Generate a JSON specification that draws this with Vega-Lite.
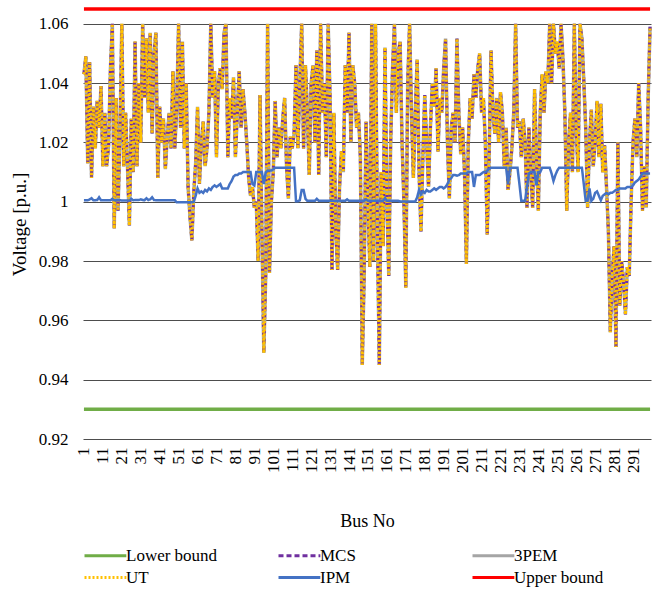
{
"$schema": "https://vega.github.io/schema/vega-lite/v6.json",
"width": 568, "height": 430,
"autosize": {"type": "none"},
"padding": {"left": 83, "top": 9, "right": 6, "bottom": 150},
"background": "white",
"config": {"view": {"stroke": null}, "font": "Times New Roman, Liberation Serif, serif"},
"datasets": {
"bounds": [{"b":1,"key":"Lower bound","value":0.93},{"b":300,"key":"Lower bound","value":0.93},{"b":1,"key":"Upper bound","value":1.065},{"b":300,"key":"Upper bound","value":1.065}],
"bus": [
{"b":1,"MCS":1.043,"3PEM":1.043,"UT":1.043,"IPM":1.0005},
{"b":2,"MCS":1.049,"3PEM":1.049,"UT":1.049,"IPM":1.0005},
{"b":3,"MCS":1.013,"3PEM":1.013,"UT":1.013,"IPM":1.0005},
{"b":4,"MCS":1.047,"3PEM":1.047,"UT":1.047,"IPM":1.0008},
{"b":5,"MCS":1.008,"3PEM":1.008,"UT":1.008,"IPM":1.0012},
{"b":6,"MCS":1.032,"3PEM":1.032,"UT":1.032,"IPM":1.0005},
{"b":7,"MCS":1.018,"3PEM":1.018,"UT":1.018,"IPM":1.0005},
{"b":8,"MCS":1.034,"3PEM":1.034,"UT":1.034,"IPM":1.0006},
{"b":9,"MCS":1.025,"3PEM":1.025,"UT":1.025,"IPM":1.0015},
{"b":10,"MCS":1.039,"3PEM":1.039,"UT":1.039,"IPM":1.0005},
{"b":11,"MCS":1.012,"3PEM":1.012,"UT":1.012,"IPM":1.0005},
{"b":12,"MCS":1.030,"3PEM":1.030,"UT":1.030,"IPM":1.0005},
{"b":13,"MCS":1.012,"3PEM":1.012,"UT":1.012,"IPM":1.0005},
{"b":14,"MCS":1.019,"3PEM":1.019,"UT":1.019,"IPM":1.0005},
{"b":15,"MCS":1.045,"3PEM":1.045,"UT":1.045,"IPM":1.0005},
{"b":16,"MCS":1.060,"3PEM":1.060,"UT":1.060,"IPM":1.001},
{"b":17,"MCS":0.991,"3PEM":0.991,"UT":0.991,"IPM":1.0005},
{"b":18,"MCS":1.035,"3PEM":1.035,"UT":1.035,"IPM":1.0005},
{"b":19,"MCS":0.997,"3PEM":0.997,"UT":0.997,"IPM":1.0005},
{"b":20,"MCS":1.022,"3PEM":1.022,"UT":1.022,"IPM":1.0005},
{"b":21,"MCS":1.060,"3PEM":1.060,"UT":1.060,"IPM":1.0004},
{"b":22,"MCS":1.012,"3PEM":1.012,"UT":1.012,"IPM":1.0004},
{"b":23,"MCS":1.030,"3PEM":1.030,"UT":1.030,"IPM":1.0004},
{"b":24,"MCS":1.012,"3PEM":1.012,"UT":1.012,"IPM":1.0004},
{"b":25,"MCS":0.992,"3PEM":0.992,"UT":0.992,"IPM":1.0004},
{"b":26,"MCS":1.028,"3PEM":1.028,"UT":1.028,"IPM":1.001},
{"b":27,"MCS":1.010,"3PEM":1.010,"UT":1.010,"IPM":1.0005},
{"b":28,"MCS":1.054,"3PEM":1.054,"UT":1.054,"IPM":1.0006},
{"b":29,"MCS":1.012,"3PEM":1.012,"UT":1.012,"IPM":1.0006},
{"b":30,"MCS":1.040,"3PEM":1.040,"UT":1.040,"IPM":1.0006},
{"b":31,"MCS":1.020,"3PEM":1.020,"UT":1.020,"IPM":1.0008},
{"b":32,"MCS":1.060,"3PEM":1.060,"UT":1.060,"IPM":1.0006},
{"b":33,"MCS":1.035,"3PEM":1.035,"UT":1.035,"IPM":1.0005},
{"b":34,"MCS":1.055,"3PEM":1.055,"UT":1.055,"IPM":1.0012},
{"b":35,"MCS":1.030,"3PEM":1.030,"UT":1.030,"IPM":1.0006},
{"b":36,"MCS":1.057,"3PEM":1.057,"UT":1.057,"IPM":1.0008},
{"b":37,"MCS":1.023,"3PEM":1.023,"UT":1.023,"IPM":1.0015},
{"b":38,"MCS":1.050,"3PEM":1.050,"UT":1.050,"IPM":1.0006},
{"b":39,"MCS":1.057,"3PEM":1.057,"UT":1.057,"IPM":1.0005},
{"b":40,"MCS":1.008,"3PEM":1.008,"UT":1.008,"IPM":1.0005},
{"b":41,"MCS":1.032,"3PEM":1.032,"UT":1.032,"IPM":1.0005},
{"b":42,"MCS":1.020,"3PEM":1.020,"UT":1.020,"IPM":1.0005},
{"b":43,"MCS":1.028,"3PEM":1.028,"UT":1.028,"IPM":1.0005},
{"b":44,"MCS":1.011,"3PEM":1.011,"UT":1.011,"IPM":1.0005},
{"b":45,"MCS":1.022,"3PEM":1.022,"UT":1.022,"IPM":1.0005},
{"b":46,"MCS":1.030,"3PEM":1.030,"UT":1.030,"IPM":1.0005},
{"b":47,"MCS":1.018,"3PEM":1.018,"UT":1.018,"IPM":1.0005},
{"b":48,"MCS":1.044,"3PEM":1.044,"UT":1.044,"IPM":1.0005},
{"b":49,"MCS":1.018,"3PEM":1.018,"UT":1.018,"IPM":1.0005},
{"b":50,"MCS":1.032,"3PEM":1.032,"UT":1.032,"IPM":0.9998},
{"b":51,"MCS":1.060,"3PEM":1.060,"UT":1.060,"IPM":0.9998},
{"b":52,"MCS":1.025,"3PEM":1.025,"UT":1.025,"IPM":0.9998},
{"b":53,"MCS":1.054,"3PEM":1.054,"UT":1.054,"IPM":0.9998},
{"b":54,"MCS":1.018,"3PEM":1.018,"UT":1.018,"IPM":0.9998},
{"b":55,"MCS":1.040,"3PEM":1.040,"UT":1.040,"IPM":0.9998},
{"b":56,"MCS":1.005,"3PEM":1.005,"UT":1.005,"IPM":0.9998},
{"b":57,"MCS":0.995,"3PEM":0.995,"UT":0.995,"IPM":0.9998},
{"b":58,"MCS":0.987,"3PEM":0.987,"UT":0.987,"IPM":0.9998},
{"b":59,"MCS":1.003,"3PEM":1.003,"UT":1.003,"IPM":1.0000},
{"b":60,"MCS":1.013,"3PEM":1.013,"UT":1.013,"IPM":1.002},
{"b":61,"MCS":1.032,"3PEM":1.032,"UT":1.032,"IPM":1.0045},
{"b":62,"MCS":1.006,"3PEM":1.006,"UT":1.006,"IPM":1.003},
{"b":63,"MCS":1.020,"3PEM":1.020,"UT":1.020,"IPM":1.0035},
{"b":64,"MCS":1.027,"3PEM":1.027,"UT":1.027,"IPM":1.003},
{"b":65,"MCS":1.012,"3PEM":1.012,"UT":1.012,"IPM":1.004},
{"b":66,"MCS":1.018,"3PEM":1.018,"UT":1.018,"IPM":1.0035},
{"b":67,"MCS":1.030,"3PEM":1.030,"UT":1.030,"IPM":1.0045},
{"b":68,"MCS":1.060,"3PEM":1.060,"UT":1.060,"IPM":1.004},
{"b":69,"MCS":1.035,"3PEM":1.035,"UT":1.035,"IPM":1.005},
{"b":70,"MCS":1.044,"3PEM":1.044,"UT":1.044,"IPM":1.0055},
{"b":71,"MCS":1.015,"3PEM":1.015,"UT":1.015,"IPM":1.005},
{"b":72,"MCS":1.040,"3PEM":1.040,"UT":1.040,"IPM":1.0055},
{"b":73,"MCS":1.045,"3PEM":1.045,"UT":1.045,"IPM":1.006},
{"b":74,"MCS":1.038,"3PEM":1.038,"UT":1.038,"IPM":1.0045},
{"b":75,"MCS":1.057,"3PEM":1.057,"UT":1.057,"IPM":1.0045},
{"b":76,"MCS":1.060,"3PEM":1.060,"UT":1.060,"IPM":1.0045},
{"b":77,"MCS":1.015,"3PEM":1.015,"UT":1.015,"IPM":1.0045},
{"b":78,"MCS":1.035,"3PEM":1.035,"UT":1.035,"IPM":1.006},
{"b":79,"MCS":1.028,"3PEM":1.028,"UT":1.028,"IPM":1.007},
{"b":80,"MCS":1.042,"3PEM":1.042,"UT":1.042,"IPM":1.0085},
{"b":81,"MCS":1.015,"3PEM":1.015,"UT":1.015,"IPM":1.009},
{"b":82,"MCS":1.030,"3PEM":1.030,"UT":1.030,"IPM":1.009},
{"b":83,"MCS":1.044,"3PEM":1.044,"UT":1.044,"IPM":1.0095},
{"b":84,"MCS":1.025,"3PEM":1.025,"UT":1.025,"IPM":1.0095},
{"b":85,"MCS":1.038,"3PEM":1.038,"UT":1.038,"IPM":1.010},
{"b":86,"MCS":1.030,"3PEM":1.030,"UT":1.030,"IPM":1.010},
{"b":87,"MCS":1.020,"3PEM":1.020,"UT":1.020,"IPM":1.010},
{"b":88,"MCS":1.008,"3PEM":1.008,"UT":1.008,"IPM":1.010},
{"b":89,"MCS":1.002,"3PEM":1.002,"UT":1.002,"IPM":1.010},
{"b":90,"MCS":1.005,"3PEM":1.005,"UT":1.005,"IPM":1.006},
{"b":91,"MCS":0.998,"3PEM":0.998,"UT":0.998,"IPM":1.0055},
{"b":92,"MCS":1.000,"3PEM":1.000,"UT":1.000,"IPM":1.010},
{"b":93,"MCS":0.980,"3PEM":0.980,"UT":0.980,"IPM":1.010},
{"b":94,"MCS":1.036,"3PEM":1.036,"UT":1.036,"IPM":1.010},
{"b":95,"MCS":0.990,"3PEM":0.990,"UT":0.990,"IPM":1.010},
{"b":96,"MCS":0.949,"3PEM":0.949,"UT":0.949,"IPM":1.006},
{"b":97,"MCS":0.975,"3PEM":0.975,"UT":0.975,"IPM":1.010},
{"b":98,"MCS":1.060,"3PEM":1.060,"UT":1.060,"IPM":1.0105},
{"b":99,"MCS":0.976,"3PEM":0.976,"UT":0.976,"IPM":1.0105},
{"b":100,"MCS":1.000,"3PEM":1.000,"UT":1.000,"IPM":1.0105},
{"b":101,"MCS":1.010,"3PEM":1.010,"UT":1.010,"IPM":1.011},
{"b":102,"MCS":1.034,"3PEM":1.034,"UT":1.034,"IPM":1.0115},
{"b":103,"MCS":1.015,"3PEM":1.015,"UT":1.015,"IPM":1.0115},
{"b":104,"MCS":1.025,"3PEM":1.025,"UT":1.025,"IPM":1.0115},
{"b":105,"MCS":1.018,"3PEM":1.018,"UT":1.018,"IPM":1.0115},
{"b":106,"MCS":1.028,"3PEM":1.028,"UT":1.028,"IPM":1.0115},
{"b":107,"MCS":1.035,"3PEM":1.035,"UT":1.035,"IPM":1.0115},
{"b":108,"MCS":1.012,"3PEM":1.012,"UT":1.012,"IPM":1.0115},
{"b":109,"MCS":1.001,"3PEM":1.001,"UT":1.001,"IPM":1.0115},
{"b":110,"MCS":1.022,"3PEM":1.022,"UT":1.022,"IPM":1.0115},
{"b":111,"MCS":1.018,"3PEM":1.018,"UT":1.018,"IPM":1.0115},
{"b":112,"MCS":1.023,"3PEM":1.023,"UT":1.023,"IPM":1.0115},
{"b":113,"MCS":1.046,"3PEM":1.046,"UT":1.046,"IPM":1.0002},
{"b":114,"MCS":1.018,"3PEM":1.018,"UT":1.018,"IPM":1.0002},
{"b":115,"MCS":1.040,"3PEM":1.040,"UT":1.040,"IPM":1.0005},
{"b":116,"MCS":1.060,"3PEM":1.060,"UT":1.060,"IPM":1.004},
{"b":117,"MCS":1.018,"3PEM":1.018,"UT":1.018,"IPM":1.004},
{"b":118,"MCS":1.046,"3PEM":1.046,"UT":1.046,"IPM":1.001},
{"b":119,"MCS":1.030,"3PEM":1.030,"UT":1.030,"IPM":1.0003},
{"b":120,"MCS":1.009,"3PEM":1.009,"UT":1.009,"IPM":1.0003},
{"b":121,"MCS":1.040,"3PEM":1.040,"UT":1.040,"IPM":1.0003},
{"b":122,"MCS":1.046,"3PEM":1.046,"UT":1.046,"IPM":1.0003},
{"b":123,"MCS":1.020,"3PEM":1.020,"UT":1.020,"IPM":1.0003},
{"b":124,"MCS":1.051,"3PEM":1.051,"UT":1.051,"IPM":1.001},
{"b":125,"MCS":1.009,"3PEM":1.009,"UT":1.009,"IPM":1.0003},
{"b":126,"MCS":1.060,"3PEM":1.060,"UT":1.060,"IPM":1.0003},
{"b":127,"MCS":1.030,"3PEM":1.030,"UT":1.030,"IPM":1.0003},
{"b":128,"MCS":1.040,"3PEM":1.040,"UT":1.040,"IPM":1.0003},
{"b":129,"MCS":1.015,"3PEM":1.015,"UT":1.015,"IPM":1.0003},
{"b":130,"MCS":1.060,"3PEM":1.060,"UT":1.060,"IPM":1.0003},
{"b":131,"MCS":1.035,"3PEM":1.035,"UT":1.035,"IPM":1.0003},
{"b":132,"MCS":0.977,"3PEM":0.977,"UT":0.977,"IPM":1.0003},
{"b":133,"MCS":1.030,"3PEM":1.030,"UT":1.030,"IPM":1.0003},
{"b":134,"MCS":0.990,"3PEM":0.990,"UT":0.990,"IPM":1.0003},
{"b":135,"MCS":0.977,"3PEM":0.977,"UT":0.977,"IPM":1.0003},
{"b":136,"MCS":1.005,"3PEM":1.005,"UT":1.005,"IPM":1.0003},
{"b":137,"MCS":1.017,"3PEM":1.017,"UT":1.017,"IPM":1.0003},
{"b":138,"MCS":1.010,"3PEM":1.010,"UT":1.010,"IPM":1.0003},
{"b":139,"MCS":1.046,"3PEM":1.046,"UT":1.046,"IPM":1.0003},
{"b":140,"MCS":1.030,"3PEM":1.030,"UT":1.030,"IPM":1.0008},
{"b":141,"MCS":1.057,"3PEM":1.057,"UT":1.057,"IPM":1.0003},
{"b":142,"MCS":1.020,"3PEM":1.020,"UT":1.020,"IPM":1.0003},
{"b":143,"MCS":1.046,"3PEM":1.046,"UT":1.046,"IPM":1.0003},
{"b":144,"MCS":1.040,"3PEM":1.040,"UT":1.040,"IPM":1.0003},
{"b":145,"MCS":1.025,"3PEM":1.025,"UT":1.025,"IPM":1.0003},
{"b":146,"MCS":1.030,"3PEM":1.030,"UT":1.030,"IPM":1.0003},
{"b":147,"MCS":1.015,"3PEM":1.015,"UT":1.015,"IPM":1.0003},
{"b":148,"MCS":0.945,"3PEM":0.945,"UT":0.945,"IPM":1.0003},
{"b":149,"MCS":0.975,"3PEM":0.975,"UT":0.975,"IPM":1.0003},
{"b":150,"MCS":1.027,"3PEM":1.027,"UT":1.027,"IPM":1.0008},
{"b":151,"MCS":1.000,"3PEM":1.000,"UT":1.000,"IPM":1.0003},
{"b":152,"MCS":0.978,"3PEM":0.978,"UT":0.978,"IPM":1.0003},
{"b":153,"MCS":1.060,"3PEM":1.060,"UT":1.060,"IPM":1.0003},
{"b":154,"MCS":0.980,"3PEM":0.980,"UT":0.980,"IPM":1.0003},
{"b":155,"MCS":1.060,"3PEM":1.060,"UT":1.060,"IPM":1.0003},
{"b":156,"MCS":0.990,"3PEM":0.990,"UT":0.990,"IPM":1.0003},
{"b":157,"MCS":0.945,"3PEM":0.945,"UT":0.945,"IPM":1.0003},
{"b":158,"MCS":1.010,"3PEM":1.010,"UT":1.010,"IPM":1.0003},
{"b":159,"MCS":0.985,"3PEM":0.985,"UT":0.985,"IPM":1.0003},
{"b":160,"MCS":1.052,"3PEM":1.052,"UT":1.052,"IPM":1.0012},
{"b":161,"MCS":1.000,"3PEM":1.000,"UT":1.000,"IPM":1.0003},
{"b":162,"MCS":0.975,"3PEM":0.975,"UT":0.975,"IPM":1.0003},
{"b":163,"MCS":1.020,"3PEM":1.020,"UT":1.020,"IPM":1.0003},
{"b":164,"MCS":1.045,"3PEM":1.045,"UT":1.045,"IPM":1.0003},
{"b":165,"MCS":1.060,"3PEM":1.060,"UT":1.060,"IPM":1.0003},
{"b":166,"MCS":1.030,"3PEM":1.030,"UT":1.030,"IPM":1.0003},
{"b":167,"MCS":1.050,"3PEM":1.050,"UT":1.050,"IPM":1.0003},
{"b":168,"MCS":1.054,"3PEM":1.054,"UT":1.054,"IPM":1.0001},
{"b":169,"MCS":1.020,"3PEM":1.020,"UT":1.020,"IPM":1.0001},
{"b":170,"MCS":1.000,"3PEM":1.000,"UT":1.000,"IPM":1.0001},
{"b":171,"MCS":0.971,"3PEM":0.971,"UT":0.971,"IPM":1.0001},
{"b":172,"MCS":1.040,"3PEM":1.040,"UT":1.040,"IPM":1.0001},
{"b":173,"MCS":1.060,"3PEM":1.060,"UT":1.060,"IPM":1.0001},
{"b":174,"MCS":1.030,"3PEM":1.030,"UT":1.030,"IPM":1.0001},
{"b":175,"MCS":1.008,"3PEM":1.008,"UT":1.008,"IPM":1.0001},
{"b":176,"MCS":1.030,"3PEM":1.030,"UT":1.030,"IPM":1.0001},
{"b":177,"MCS":1.048,"3PEM":1.048,"UT":1.048,"IPM":1.0015},
{"b":178,"MCS":1.010,"3PEM":1.010,"UT":1.010,"IPM":1.004},
{"b":179,"MCS":0.990,"3PEM":0.990,"UT":0.990,"IPM":1.0025},
{"b":180,"MCS":1.015,"3PEM":1.015,"UT":1.015,"IPM":1.0035},
{"b":181,"MCS":1.036,"3PEM":1.036,"UT":1.036,"IPM":1.003},
{"b":182,"MCS":1.020,"3PEM":1.020,"UT":1.020,"IPM":1.004},
{"b":183,"MCS":1.005,"3PEM":1.005,"UT":1.005,"IPM":1.0035},
{"b":184,"MCS":1.025,"3PEM":1.025,"UT":1.025,"IPM":1.0035},
{"b":185,"MCS":1.040,"3PEM":1.040,"UT":1.040,"IPM":1.004},
{"b":186,"MCS":1.032,"3PEM":1.032,"UT":1.032,"IPM":1.0045},
{"b":187,"MCS":1.045,"3PEM":1.045,"UT":1.045,"IPM":1.004},
{"b":188,"MCS":1.017,"3PEM":1.017,"UT":1.017,"IPM":1.0045},
{"b":189,"MCS":1.035,"3PEM":1.035,"UT":1.035,"IPM":1.005},
{"b":190,"MCS":1.030,"3PEM":1.030,"UT":1.030,"IPM":1.005},
{"b":191,"MCS":1.045,"3PEM":1.045,"UT":1.045,"IPM":1.0045},
{"b":192,"MCS":1.055,"3PEM":1.055,"UT":1.055,"IPM":1.005},
{"b":193,"MCS":1.020,"3PEM":1.020,"UT":1.020,"IPM":1.006},
{"b":194,"MCS":1.001,"3PEM":1.001,"UT":1.001,"IPM":1.0075},
{"b":195,"MCS":1.025,"3PEM":1.025,"UT":1.025,"IPM":1.008},
{"b":196,"MCS":1.030,"3PEM":1.030,"UT":1.030,"IPM":1.009},
{"b":197,"MCS":1.020,"3PEM":1.020,"UT":1.020,"IPM":1.009},
{"b":198,"MCS":1.055,"3PEM":1.055,"UT":1.055,"IPM":1.0088},
{"b":199,"MCS":1.030,"3PEM":1.030,"UT":1.030,"IPM":1.009},
{"b":200,"MCS":1.016,"3PEM":1.016,"UT":1.016,"IPM":1.0095},
{"b":201,"MCS":1.025,"3PEM":1.025,"UT":1.025,"IPM":1.0095},
{"b":202,"MCS":1.010,"3PEM":1.010,"UT":1.010,"IPM":1.0095},
{"b":203,"MCS":0.979,"3PEM":0.979,"UT":0.979,"IPM":1.0095},
{"b":204,"MCS":1.020,"3PEM":1.020,"UT":1.020,"IPM":1.010},
{"b":205,"MCS":1.035,"3PEM":1.035,"UT":1.035,"IPM":1.010},
{"b":206,"MCS":1.028,"3PEM":1.028,"UT":1.028,"IPM":1.010},
{"b":207,"MCS":1.043,"3PEM":1.043,"UT":1.043,"IPM":1.005},
{"b":208,"MCS":1.035,"3PEM":1.035,"UT":1.035,"IPM":1.009},
{"b":209,"MCS":1.045,"3PEM":1.045,"UT":1.045,"IPM":1.009},
{"b":210,"MCS":1.050,"3PEM":1.050,"UT":1.050,"IPM":1.009},
{"b":211,"MCS":1.030,"3PEM":1.030,"UT":1.030,"IPM":1.0095},
{"b":212,"MCS":1.035,"3PEM":1.035,"UT":1.035,"IPM":1.010},
{"b":213,"MCS":1.020,"3PEM":1.020,"UT":1.020,"IPM":1.010},
{"b":214,"MCS":0.989,"3PEM":0.989,"UT":0.989,"IPM":1.0105},
{"b":215,"MCS":1.015,"3PEM":1.015,"UT":1.015,"IPM":1.011},
{"b":216,"MCS":1.051,"3PEM":1.051,"UT":1.051,"IPM":1.0115},
{"b":217,"MCS":1.030,"3PEM":1.030,"UT":1.030,"IPM":1.0115},
{"b":218,"MCS":1.023,"3PEM":1.023,"UT":1.023,"IPM":1.0115},
{"b":219,"MCS":1.035,"3PEM":1.035,"UT":1.035,"IPM":1.0115},
{"b":220,"MCS":1.020,"3PEM":1.020,"UT":1.020,"IPM":1.0115},
{"b":221,"MCS":1.037,"3PEM":1.037,"UT":1.037,"IPM":1.0115},
{"b":222,"MCS":1.030,"3PEM":1.030,"UT":1.030,"IPM":1.0115},
{"b":223,"MCS":1.012,"3PEM":1.012,"UT":1.012,"IPM":1.0115},
{"b":224,"MCS":1.025,"3PEM":1.025,"UT":1.025,"IPM":1.0115},
{"b":225,"MCS":1.004,"3PEM":1.004,"UT":1.004,"IPM":1.006},
{"b":226,"MCS":1.010,"3PEM":1.010,"UT":1.010,"IPM":1.0115},
{"b":227,"MCS":1.018,"3PEM":1.018,"UT":1.018,"IPM":1.0115},
{"b":228,"MCS":1.030,"3PEM":1.030,"UT":1.030,"IPM":1.0115},
{"b":229,"MCS":1.060,"3PEM":1.060,"UT":1.060,"IPM":1.0115},
{"b":230,"MCS":1.025,"3PEM":1.025,"UT":1.025,"IPM":1.0115},
{"b":231,"MCS":1.027,"3PEM":1.027,"UT":1.027,"IPM":1.006},
{"b":232,"MCS":1.015,"3PEM":1.015,"UT":1.015,"IPM":1.0003},
{"b":233,"MCS":1.028,"3PEM":1.028,"UT":1.028,"IPM":1.0003},
{"b":234,"MCS":1.020,"3PEM":1.020,"UT":1.020,"IPM":1.0003},
{"b":235,"MCS":0.998,"3PEM":0.998,"UT":0.998,"IPM":1.005},
{"b":236,"MCS":1.025,"3PEM":1.025,"UT":1.025,"IPM":1.0095},
{"b":237,"MCS":1.010,"3PEM":1.010,"UT":1.010,"IPM":1.010},
{"b":238,"MCS":0.998,"3PEM":0.998,"UT":0.998,"IPM":1.010},
{"b":239,"MCS":1.038,"3PEM":1.038,"UT":1.038,"IPM":1.010},
{"b":240,"MCS":1.015,"3PEM":1.015,"UT":1.015,"IPM":1.0055},
{"b":241,"MCS":0.997,"3PEM":0.997,"UT":0.997,"IPM":1.010},
{"b":242,"MCS":1.030,"3PEM":1.030,"UT":1.030,"IPM":1.010},
{"b":243,"MCS":1.043,"3PEM":1.043,"UT":1.043,"IPM":1.0115},
{"b":244,"MCS":1.030,"3PEM":1.030,"UT":1.030,"IPM":1.0115},
{"b":245,"MCS":1.044,"3PEM":1.044,"UT":1.044,"IPM":1.0115},
{"b":246,"MCS":1.040,"3PEM":1.040,"UT":1.040,"IPM":1.0115},
{"b":247,"MCS":1.060,"3PEM":1.060,"UT":1.060,"IPM":1.0115},
{"b":248,"MCS":1.040,"3PEM":1.040,"UT":1.040,"IPM":1.0095},
{"b":249,"MCS":1.060,"3PEM":1.060,"UT":1.060,"IPM":1.007},
{"b":250,"MCS":1.050,"3PEM":1.050,"UT":1.050,"IPM":1.009},
{"b":251,"MCS":1.054,"3PEM":1.054,"UT":1.054,"IPM":1.0105},
{"b":252,"MCS":1.045,"3PEM":1.045,"UT":1.045,"IPM":1.0115},
{"b":253,"MCS":1.060,"3PEM":1.060,"UT":1.060,"IPM":1.0115},
{"b":254,"MCS":1.048,"3PEM":1.048,"UT":1.048,"IPM":1.0115},
{"b":255,"MCS":1.030,"3PEM":1.030,"UT":1.030,"IPM":1.0115},
{"b":256,"MCS":0.997,"3PEM":0.997,"UT":0.997,"IPM":1.0115},
{"b":257,"MCS":1.020,"3PEM":1.020,"UT":1.020,"IPM":1.0115},
{"b":258,"MCS":1.030,"3PEM":1.030,"UT":1.030,"IPM":1.0115},
{"b":259,"MCS":1.010,"3PEM":1.010,"UT":1.010,"IPM":1.0115},
{"b":260,"MCS":1.060,"3PEM":1.060,"UT":1.060,"IPM":1.0115},
{"b":261,"MCS":1.025,"3PEM":1.025,"UT":1.025,"IPM":1.0115},
{"b":262,"MCS":1.010,"3PEM":1.010,"UT":1.010,"IPM":1.0115},
{"b":263,"MCS":1.060,"3PEM":1.060,"UT":1.060,"IPM":1.0115},
{"b":264,"MCS":1.055,"3PEM":1.055,"UT":1.055,"IPM":1.0115},
{"b":265,"MCS":1.041,"3PEM":1.041,"UT":1.041,"IPM":1.006},
{"b":266,"MCS":1.025,"3PEM":1.025,"UT":1.025,"IPM":1.0003},
{"b":267,"MCS":0.998,"3PEM":0.998,"UT":0.998,"IPM":1.0003},
{"b":268,"MCS":1.020,"3PEM":1.020,"UT":1.020,"IPM":1.0045},
{"b":269,"MCS":1.031,"3PEM":1.031,"UT":1.031,"IPM":1.0003},
{"b":270,"MCS":1.012,"3PEM":1.012,"UT":1.012,"IPM":1.001},
{"b":271,"MCS":1.020,"3PEM":1.020,"UT":1.020,"IPM":1.003},
{"b":272,"MCS":1.034,"3PEM":1.034,"UT":1.034,"IPM":1.0035},
{"b":273,"MCS":1.015,"3PEM":1.015,"UT":1.015,"IPM":1.002},
{"b":274,"MCS":1.033,"3PEM":1.033,"UT":1.033,"IPM":1.0005},
{"b":275,"MCS":1.010,"3PEM":1.010,"UT":1.010,"IPM":1.002},
{"b":276,"MCS":1.019,"3PEM":1.019,"UT":1.019,"IPM":1.0025},
{"b":277,"MCS":1.005,"3PEM":1.005,"UT":1.005,"IPM":1.003},
{"b":278,"MCS":0.990,"3PEM":0.990,"UT":0.990,"IPM":1.0025},
{"b":279,"MCS":0.956,"3PEM":0.956,"UT":0.956,"IPM":1.003},
{"b":280,"MCS":0.975,"3PEM":0.975,"UT":0.975,"IPM":1.003},
{"b":281,"MCS":0.985,"3PEM":0.985,"UT":0.985,"IPM":1.0035},
{"b":282,"MCS":0.951,"3PEM":0.951,"UT":0.951,"IPM":1.004},
{"b":283,"MCS":1.020,"3PEM":1.020,"UT":1.020,"IPM":1.004},
{"b":284,"MCS":0.965,"3PEM":0.965,"UT":0.965,"IPM":1.0045},
{"b":285,"MCS":0.980,"3PEM":0.980,"UT":0.980,"IPM":1.0045},
{"b":286,"MCS":0.973,"3PEM":0.973,"UT":0.973,"IPM":1.0045},
{"b":287,"MCS":0.962,"3PEM":0.962,"UT":0.962,"IPM":1.0045},
{"b":288,"MCS":0.978,"3PEM":0.978,"UT":0.978,"IPM":1.005},
{"b":289,"MCS":0.975,"3PEM":0.975,"UT":0.975,"IPM":1.005},
{"b":290,"MCS":1.000,"3PEM":1.000,"UT":1.000,"IPM":1.005},
{"b":291,"MCS":1.020,"3PEM":1.020,"UT":1.020,"IPM":1.0055},
{"b":292,"MCS":1.028,"3PEM":1.028,"UT":1.028,"IPM":1.0065},
{"b":293,"MCS":1.015,"3PEM":1.015,"UT":1.015,"IPM":1.007},
{"b":294,"MCS":1.040,"3PEM":1.040,"UT":1.040,"IPM":1.0075},
{"b":295,"MCS":1.025,"3PEM":1.025,"UT":1.025,"IPM":1.0085},
{"b":296,"MCS":0.997,"3PEM":0.997,"UT":0.997,"IPM":1.0095},
{"b":297,"MCS":1.012,"3PEM":1.012,"UT":1.012,"IPM":1.0095},
{"b":298,"MCS":0.998,"3PEM":0.998,"UT":0.998,"IPM":1.0095},
{"b":299,"MCS":1.035,"3PEM":1.035,"UT":1.035,"IPM":1.0095},
{"b":300,"MCS":1.059,"3PEM":1.059,"UT":1.059,"IPM":1.0095}
]},
"encoding": {
  "x": {"field": "b", "type": "quantitative", "scale": {"domain": [0.5, 300.5], "nice": false, "zero": false},
        "axis": {"values": [1,11,21,31,41,51,61,71,81,91,101,111,121,131,141,151,161,171,181,191,201,211,221,231,241,251,261,271,281,291],
                 "title": "Bus No", "labelAngle": -90, "labelFont": "Times New Roman, Liberation Serif, serif", "labelFontSize": 17, "labelColor": "black",
                 "labelPadding": 8, "labelOverlap": false, "labelFlush": false, "domain": false, "ticks": false, "grid": false,
                 "titleFont": "Times New Roman, Liberation Serif, serif", "titleFontSize": 18, "titleFontWeight": "normal", "titleColor": "black", "titlePadding": 40}},
  "y": {"field": "value", "type": "quantitative", "scale": {"domain": [0.92, 1.065], "nice": false, "zero": false},
        "axis": {"values": [0.92,0.94,0.96,0.98,1,1.02,1.04,1.06], "format": ".2~f", "title": "Voltage [p.u.]",
                 "labelFont": "Times New Roman, Liberation Serif, serif", "labelFontSize": 17, "labelColor": "black", "labelPadding": 15,
                 "domain": false, "ticks": false, "grid": true, "gridColor": "#4d4d4d", "gridWidth": 1,
                 "titleFont": "Times New Roman, Liberation Serif, serif", "titleFontSize": 19, "titleFontWeight": "normal", "titleColor": "black", "titlePadding": 9}},
  "color": {"field": "key", "type": "nominal",
            "scale": {"domain": ["Lower bound","MCS","3PEM","UT","IPM","Upper bound"], "range": ["#70AD47","#7030A0","#A5A5A5","#FFC000","#4472C4","#FF0000"]},
            "legend": {"title": null, "orient": "none", "legendX": -7, "legendY": 538, "columns": 3, "direction": "horizontal",
                       "symbolType": "M0,0H10", "symbolSize": 70, "symbolStrokeWidth": 3, "labelOffset": 33,
                       "labelFont": "Times New Roman, Liberation Serif, serif", "labelFontSize": 17, "labelColor": "black", "rowPadding": 4, "columnPadding": 52,
                       "gridAlign": "all", "padding": 0}},
  "strokeDash": {"field": "key", "type": "nominal",
            "scale": {"domain": ["Lower bound","MCS","3PEM","UT","IPM","Upper bound"], "range": [[1,0],[5,3],[1,0],[2,2],[1,0],[1,0]]},
            "legend": {"title": null, "orient": "none", "legendX": -7, "legendY": 538, "columns": 3, "direction": "horizontal",
                       "symbolType": "M0,0H10", "symbolSize": 70, "symbolStrokeWidth": 3, "labelOffset": 33,
                       "labelFont": "Times New Roman, Liberation Serif, serif", "labelFontSize": 17, "labelColor": "black", "rowPadding": 4, "columnPadding": 52,
                       "gridAlign": "all", "padding": 0}}
},
"layer": [
  {"data": {"name": "bounds"}, "transform": [{"filter": {"field": "key", "equal": "Lower bound"}}], "mark": {"type": "line", "strokeWidth": 3.5}},
  {"data": {"name": "bus"}, "transform": [{"fold": ["3PEM"]}], "mark": {"type": "line", "strokeWidth": 3.5}},
  {"data": {"name": "bus"}, "transform": [{"fold": ["MCS"]}], "mark": {"type": "line", "strokeWidth": 3}},
  {"data": {"name": "bus"}, "transform": [{"fold": ["UT"]}], "mark": {"type": "line", "strokeWidth": 3}},
  {"data": {"name": "bus"}, "transform": [{"fold": ["IPM"]}], "mark": {"type": "line", "strokeWidth": 2.5}},
  {"data": {"name": "bounds"}, "transform": [{"filter": {"field": "key", "equal": "Upper bound"}}], "mark": {"type": "line", "strokeWidth": 3.5}}
]
}
